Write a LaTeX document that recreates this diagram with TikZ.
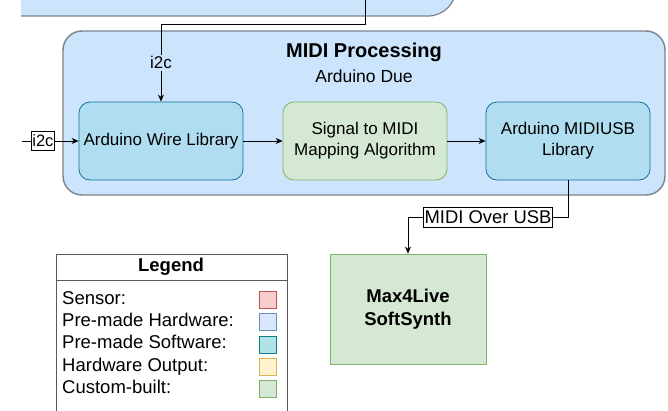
\documentclass[tikz,border=0pt]{standalone}
\usepackage{fontspec}
\setmainfont{Liberation Sans}
\usepackage{tikz}
\usetikzlibrary{arrows.meta}
\definecolor{procfill}{RGB}{204,229,253}
\definecolor{procline}{RGB}{122,130,140}
\definecolor{swfill}{RGB}{177,221,240}
\definecolor{swline}{RGB}{16,115,158}
\definecolor{cbfill}{RGB}{213,232,212}
\definecolor{cbline}{RGB}{130,179,102}
\definecolor{hwfill}{RGB}{218,232,252}
\definecolor{hwline}{RGB}{108,142,191}
\definecolor{softfill}{RGB}{176,227,230}
\definecolor{softline}{RGB}{14,128,136}
\definecolor{sensorfill}{RGB}{248,206,204}
\definecolor{sensorline}{RGB}{184,84,80}
\definecolor{outfill}{RGB}{255,242,204}
\definecolor{outline}{RGB}{214,182,86}
\definecolor{legendline}{RGB}{90,90,90}
\tikzset{
  swbox/.style={draw=swline, fill=swfill, line width=0.8pt, rounded corners=11pt,
    minimum width=164pt, minimum height=78pt, align=center,
    font=\fontsize{17}{21}\selectfont},
  cbbox/.style={swbox, draw=cbline, fill=cbfill},
  flow/.style={-{Stealth[length=7pt,width=6pt]}, line width=0.8pt},
  tag/.style={draw, fill=white, line width=0.8pt, inner xsep=1pt, inner ysep=3.5pt},
  swatch/.style={draw=#1line, fill=#1fill, line width=0.7pt, minimum size=17pt, inner sep=0pt},
  entry/.style={anchor=west, inner sep=0pt, text height=13pt, text depth=4pt,
    font=\fontsize{18.5}{20}\selectfont},
}

\begin{document}
\begin{tikzpicture}[x=1pt,y=-1pt]
\useasboundingbox (0,0) rectangle (668,410);
\clip (0,0) rectangle (668,410);
% sensor board above (only its lower edge is seen)
\fill[procfill] (21,16) [rounded corners=28pt] -- (456,16) -- (456,-60) [sharp corners] -- (21,-60) -- cycle;
\draw[procline, line width=1.2pt, rounded corners=28pt] (21,16) -- (456,16) -- (456,-60);
\coordinate (busdrop) at (365,0);
\coordinate (i2cin) at (22,141);
% MIDI processing board
\node[draw=procline, fill=procfill, line width=1.4pt, rounded corners=19pt,
  minimum width=602pt, minimum height=164pt] (proc) at (364,113){};
\node[font=\bfseries\fontsize{20}{24}\selectfont] (title) at (364,52){MIDI Processing};
\node[font=\fontsize{17.5}{21}\selectfont] (board) at (364,76){Arduino Due};
\node[swbox] (wire) at (161,141){Arduino Wire Library};
\node[cbbox] (map) at (365,141){Signal to MIDI\\Mapping Algorithm};
\node[swbox] (usb) at (568,141){Arduino MIDIUSB\\Library};
% output
\node[draw=cbline, fill=cbfill, line width=0.8pt, minimum width=156pt, minimum height=110pt,
  align=center, font=\bfseries\fontsize{18.5}{23}\selectfont] (synth) at (408,309){Max4Live\\SoftSynth};
% connections
\draw[flow] (busdrop) -- ++(0,24) -| node[pos=0.75, fill=procfill, inner sep=2pt,
  font=\fontsize{17}{20}\selectfont] (bustag){i2c} (wire.north);
\draw[flow] (i2cin) -- node[tag, pos=0.37, font=\fontsize{16.5}{20}\selectfont] (i2ctag){i2c} (wire.west);
\draw[flow] (wire) -- (map);
\draw[flow] (map) -- (usb);
\draw[flow] (usb.south) -- ++(0,37) -| node[tag, pos=0.25, font=\fontsize{18.4}{22}\selectfont] (usbtag){MIDI Over USB} (synth.north);
% legend
\node[draw=legendline, fill=white, line width=1pt, anchor=north west,
  minimum width=231pt, minimum height=190pt] (legend) at (56,254){};
\draw[legendline, line width=1pt] (56,280) -- (287,280);
\node[font=\bfseries\fontsize{18.5}{22}\selectfont] (legendtitle) at (171,267){Legend};
\foreach \name/\kind [count=\i] in {Sensor:/sensor, Pre-made Hardware:/hw,
    Pre-made Software:/soft, Hardware Output:/out, Custom-built:/cb}{
  \node[entry] (entry\i) at (62,277.5+22.3*\i){\name};
  \node[swatch=\kind] (swatch\i) at (267.5,277.5+22.3*\i){};
}
\end{tikzpicture}
\end{document}
